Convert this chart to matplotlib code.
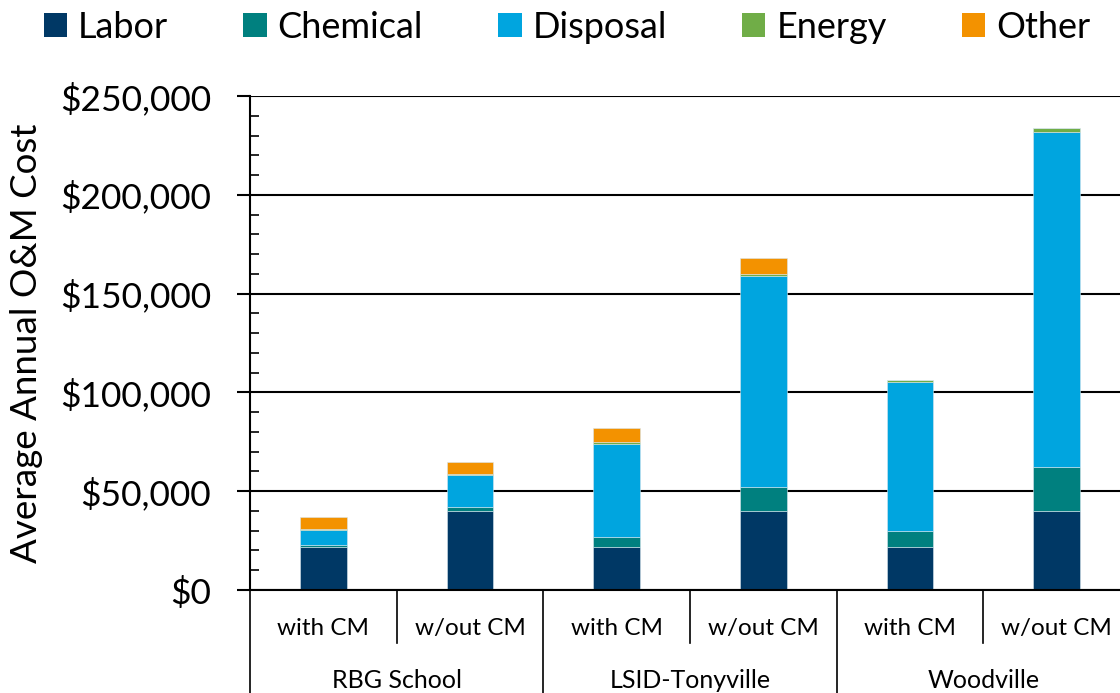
import numpy as np
import matplotlib
matplotlib.use("Agg")
import matplotlib.pyplot as plt
from matplotlib.patches import Patch
from matplotlib.ticker import FuncFormatter, MultipleLocator

# average annual O&M cost by component, $/yr
sites = ["RBG School", "LSID-Tonyville", "Woodville"]
scenarios = ["with CM", "w/out CM"]
labor = [22000, 40000, 22000, 40000, 22000, 40000]
chemical = [1000, 2000, 4800, 12300, 8000, 22400]
disposal = [7600, 16200, 47300, 106600, 75200, 169600]
energy = [200, 300, 600, 900, 900, 1700]
other = [6200, 6400, 7400, 8400, 0, 0]

components = ["Labor", "Chemical", "Disposal", "Energy", "Other"]
colors = ["#003865", "#00807f", "#00a5df", "#70ad47", "#f39200"]

plt.rcParams["font.family"] = ["Lato", "DejaVu Sans"]

fig = plt.figure(figsize=(11.2, 6.93), dpi=100)
# axes runs slightly past the right edge of the canvas
ax = fig.add_axes([250 / 1120, 1 - 590 / 693, 880 / 1120, 494 / 693])

x = np.arange(len(labor))
bottom = np.zeros(len(labor))
for name, vals, c in zip(components, [labor, chemical, disposal, energy, other], colors):
    ax.bar(x, vals, width=0.32, bottom=bottom, color=c,
           edgecolor="#d8e6ee", linewidth=0.4, zorder=3)
    bottom += np.array(vals)

ax.set_xlim(-0.5, len(labor) - 0.5)
ax.set_ylim(0, 250000)
ax.yaxis.set_major_locator(MultipleLocator(50000))
ax.yaxis.set_minor_locator(MultipleLocator(10000))
ax.yaxis.set_major_formatter(FuncFormatter(lambda v, p: f"${v:,.0f}"))
ax.tick_params(axis="y", which="major", length=9.5, width=1.5, direction="out",
               labelsize=25.5, pad=18.5)
ax.tick_params(axis="y", which="minor", length=6.5, width=1.2, direction="in")
ax.grid(axis="y", which="major", color="black", linewidth=1.5, zorder=1)
ax.set_axisbelow(True)

for s in ["top", "right", "bottom"]:
    ax.spines[s].set_visible(False)
ax.spines["left"].set_linewidth(1.5)

fig.text(27 / 1120, 1 - 343 / 693, "Average Annual O&M Cost", rotation=90,
         ha="center", va="center", fontsize=26.5)

# two-level category axis
ax.set_xticks(x)
ax.set_xticklabels(scenarios * len(sites), fontsize=17.5)
ax.tick_params(axis="x", length=0, pad=20)

tr = ax.get_xaxis_transform()
ax.plot([-0.5, len(labor) - 0.5], [0, 0], color="black", lw=1.5,
        transform=tr, clip_on=False, zorder=4)
for i in range(len(labor) + 1):
    xb = i - 0.5
    y_end = -0.21 if i % 2 == 0 else -0.108
    ax.plot([xb, xb], [0, y_end], color="black", lw=1.2,
            transform=tr, clip_on=False)
for j, site in enumerate(sites):
    ax.text(2 * j + 0.5, -0.183, site, transform=tr, ha="center",
            va="center", fontsize=18)

handles = [Patch(facecolor=c, edgecolor="none") for c in colors]
fig.legend(handles, components, loc="center", bbox_to_anchor=(567 / 1120, 1 - 27 / 693),
           ncol=5, frameon=False, fontsize=26, handlelength=0.65,
           handleheight=0.65, handletextpad=0.3, columnspacing=2.08)

fig.savefig("out.png", dpi=100)
